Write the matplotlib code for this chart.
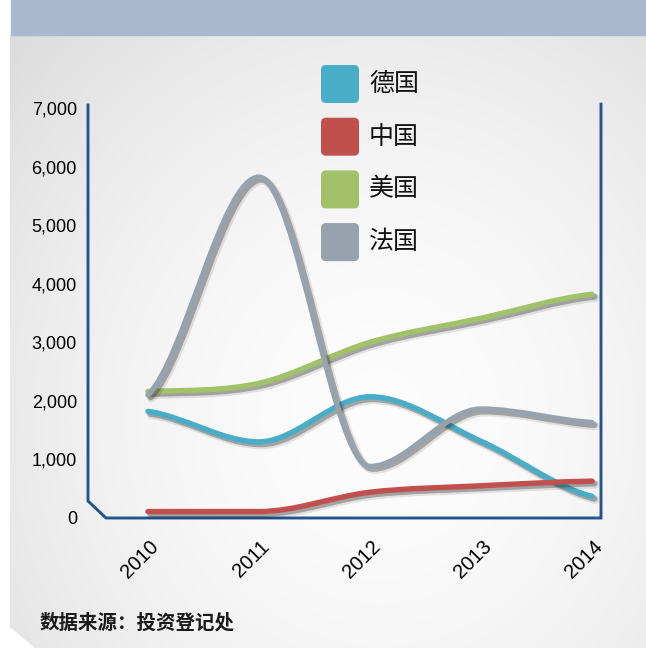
import numpy as np
import matplotlib
matplotlib.use('agg')
import matplotlib.pyplot as plt
from matplotlib.path import Path
from matplotlib.patches import PathPatch, Rectangle, FancyBboxPatch, Polygon
from matplotlib.lines import Line2D
import matplotlib.patheffects as pe
import matplotlib.transforms as mtransforms

## Data
years = ['2010', '2011', '2012', '2013', '2014']
germany = [1820, 1300, 2070, 1310, 370]
china = [110, 110, 440, 550, 630]
usa = [2160, 2300, 3000, 3410, 3820]
france = [2100, 5820, 880, 1860, 1630]
y_ticks = [0, 1000, 2000, 3000, 4000, 5000, 6000, 7000]

names = ['德国', '中国', '美国', '法国']
series = [germany, china, usa, france]
colors = ['#49adc8', '#c0504d', '#a3c168', '#98a2ad']

plt.rcParams['font.family'] = ['Liberation Sans', 'Noto Sans CJK SC']

W, H = 646, 648
fig = plt.figure(figsize=(W / 100, H / 100), dpi=100)
fig.patch.set_facecolor('white')


def smooth_path(vals):
    # cubic bezier through the points, flat tangent at local peaks/dips
    ys = np.asarray(vals, float)
    n = len(ys)
    m = np.zeros(n)
    for i in range(n):
        if i == 0:
            m[i] = (ys[1] - ys[0]) / 2
        elif i == n - 1:
            m[i] = (ys[-1] - ys[-2]) / 2
        elif (ys[i] - ys[i - 1]) * (ys[i + 1] - ys[i]) <= 0:
            m[i] = 0
        else:
            m[i] = (ys[i + 1] - ys[i - 1]) / 2
    verts = [(0, ys[0])]
    codes = [Path.MOVETO]
    for i in range(n - 1):
        verts += [(i + 1 / 3, ys[i] + m[i] / 3),
                  (i + 2 / 3, ys[i + 1] - m[i + 1] / 3),
                  (i + 1, ys[i + 1])]
        codes += [Path.CURVE4] * 3
    return Path(verts, codes)


# backdrop: soft grey vignette, header band
bg = fig.add_axes([0, 0, 1, 1], zorder=-10)
bg.set_xlim(0, W)
bg.set_ylim(H, 0)
bg.axis('off')
yy, xx = np.mgrid[35:H, 10:W]
r = np.hypot((xx - 380) / 430.0, (yy - 420) / 470.0)
shade = 0.99 - 0.095 * np.clip(r, 0, 1.2) ** 1.8
bg.imshow(np.dstack([shade] * 3), extent=(10, W, H, 35), aspect='auto',
          interpolation='bilinear', zorder=0)
bg.add_patch(Rectangle((11, 0), W - 11, 35, color='#a7b8cf', zorder=1))
bg.add_patch(Polygon([(10, 628), (10, H), (34, H)], closed=True,
                     color='white', zorder=1))

# chart area
ax = fig.add_axes([88 / W, 1 - 518 / H, 513 / W, 413 / H])
ax.patch.set_alpha(0)
for s in ax.spines.values():
    s.set_visible(False)
ax.set_xlim((88 - 148) / 111, (601 - 148) / 111)
ax.set_ylim(0, 413 / 0.05857)

ax.set_yticks(y_ticks)
ax.set_yticklabels(['{:,}'.format(v) for v in y_ticks])
ax.tick_params(axis='y', length=0, pad=8, labelsize=13)
ax.set_xticks([])

# frame with the chamfered corner
frame = Line2D([0, 0, 18 / 513, 1, 1], [1, 17 / 413, 0, 0, 1.002],
               transform=ax.transAxes, color='#24548c', lw=2.1,
               clip_on=False, zorder=2, solid_joinstyle='miter')
ax.add_line(frame)

for k, (vals, col) in enumerate(zip(series, colors)):
    patch = PathPatch(smooth_path(vals), fill=False, edgecolor=col, lw=3.9,
                      capstyle='round', zorder=3 + k, clip_on=False)
    patch.set_path_effects([
        pe.SimpleLineShadow(offset=(2.4, -2.4), shadow_color='#000000',
                            alpha=0.10, linewidth=6.0),
        pe.SimpleLineShadow(offset=(1.8, -1.8), shadow_color='#222222',
                            alpha=0.32, linewidth=4.2),
        pe.Normal()])
    ax.add_patch(patch)

off = mtransforms.ScaledTranslation(8 / 100, -26 / 100, fig.dpi_scale_trans)
for i, lab in enumerate(years):
    ax.text(i, 0, lab, transform=ax.transData + off, rotation=45,
            rotation_mode='anchor', ha='right', va='center', fontsize=14.5)

# legend and source note on top
over = fig.add_axes([0, 0, 1, 1], zorder=5)
over.set_xlim(0, W)
over.set_ylim(H, 0)
over.axis('off')
over.patch.set_alpha(0)
for k, (name, col) in enumerate(zip(names, colors)):
    top = 65 + k * 52.7
    over.add_patch(FancyBboxPatch((321, top), 38, 38,
                                  boxstyle='round,pad=0,rounding_size=5',
                                  facecolor=col, edgecolor='none'))
    over.text(369, top + 19, name, fontsize=18, va='center', ha='left',
              family=['Noto Sans CJK SC'], color='#111111')

over.text(40, 623, '数据来源：投资登记处', fontsize=14, fontweight='bold',
          va='center', ha='left', family=['Noto Sans CJK SC'], color='#1a1a1a')

plt.savefig('out.png', dpi=100)
